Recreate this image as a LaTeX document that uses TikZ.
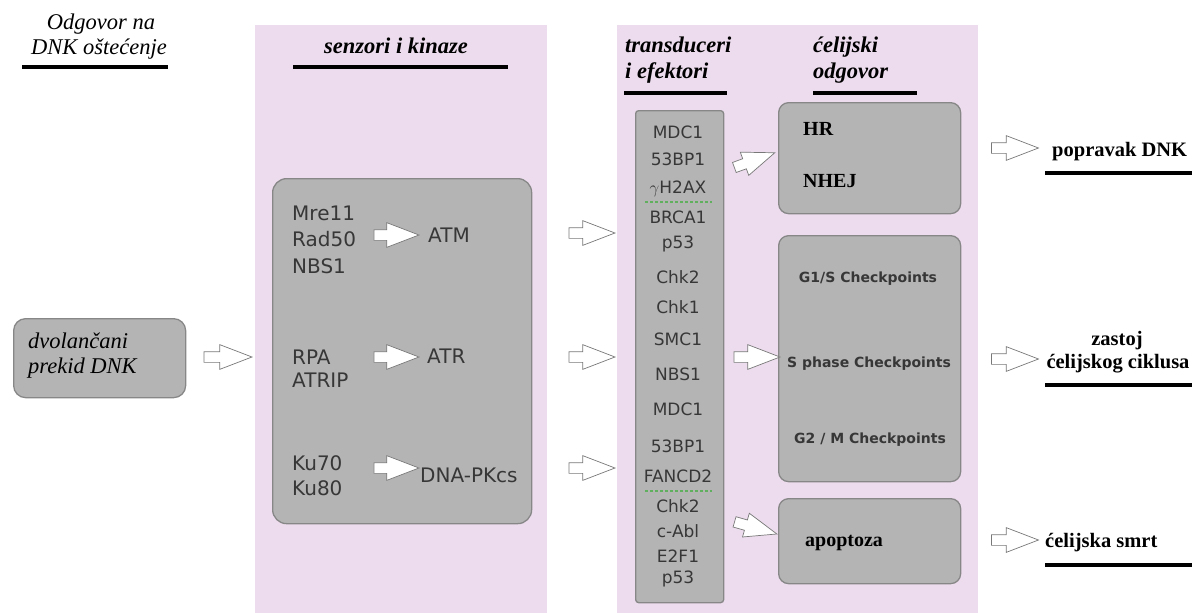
\documentclass[tikz,border=0pt]{standalone}
\usepackage{fontspec}
\setmainfont{Liberation Serif}
\newfontfamily\dejavu{DejaVu Sans}
\usetikzlibrary{shapes.arrows}
\definecolor{pinkbg}{RGB}{237,220,237}
\definecolor{boxfill}{RGB}{180,180,180}
\definecolor{boxline}{RGB}{135,135,135}
\definecolor{txtgray}{RGB}{55,55,55}
\definecolor{dashgreen}{RGB}{95,175,95}
\definecolor{arrline}{RGB}{120,120,120}
\begin{document}
\begin{tikzpicture}[x=1pt,y=-1pt,
  panel/.style={fill=pinkbg,draw=none,inner sep=0pt,anchor=north west},
  gbox/.style={fill=boxfill,draw=boxline,line width=1.3pt,inner sep=0pt,anchor=north west},
  ttl/.style={font=\fontsize{22.5}{26}\selectfont\itshape\bfseries,text=black,inner sep=0pt},
  ttlr/.style={font=\fontsize{22.5}{26}\selectfont\itshape,text=black,inner sep=0pt},
  res/.style={font=\fontsize{20.5}{24}\selectfont\bfseries,text=black,inner sep=0pt},
  sens/.style={font=\dejavu\fontsize{20}{24}\selectfont,text=txtgray,inner sep=0pt,anchor=base west},
  col/.style={font=\dejavu\fontsize{17}{20}\selectfont,text=txtgray,inner sep=0pt,anchor=base},
  chkt/.style={font=\dejavu\bfseries\fontsize{14}{17}\selectfont,text=txtgray,inner sep=0pt,anchor=base},
  resp/.style={font=\fontsize{20}{24}\selectfont\bfseries,text=black,inner sep=0pt,anchor=base west},
  uline/.style={line width=3.5pt,black},
  gdash/.style={dashgreen,densely dashed,line width=1.2pt},
  blockarrow/.style={single arrow,draw=arrline,fill=white,line width=0.7pt,inner sep=0pt,
     text height=10pt,text depth=0pt,single arrow head extend=7pt,single arrow tip angle=42,
     anchor=center}
]
\useasboundingbox (0,0) rectangle (1203,613);

% panels
\node[panel,minimum width=292pt,minimum height=588pt] (p1) at (255,25) {};
\node[panel,minimum width=361pt,minimum height=588pt] (p2) at (617,25) {};

% column titles
\node[ttlr,anchor=base] (t1a) at (101,29) {Odgovor na};
\node[ttlr,anchor=base] (t1b) at (99,54) {DNK oštećenje};
\draw[uline] (22,67) -- (168,67);

\node[ttl,anchor=base] (t2) at (396,53) {senzori i kinaze};
\draw[uline] (293,67) -- (508,67);

\node[ttl,anchor=base west] (t3a) at (625,52) {transduceri};
\node[ttl,anchor=base west] (t3b) at (625,78) {i efektori};
\draw[uline] (624,93) -- (727,93);

\node[ttl,anchor=base west] (t4a) at (813,52) {ćelijski};
\node[ttl,anchor=base west] (t4b) at (813,78) {odgovor};
\draw[uline] (813,93) -- (917,93);

% start box
\node[gbox,rounded corners=12pt,minimum width=172pt,minimum height=79pt] (dsb) at (13,318) {};
\node[ttlr,anchor=base west] (dsba) at (28,348) {dvolančani};
\node[ttlr,anchor=base west] (dsbb) at (28,373) {prekid DNK};

% sensors box
\node[gbox,rounded corners=14pt,minimum width=259pt,minimum height=345pt] (sens) at (272,178) {};
\node[sens] (mre) at (292,220) {Mre11};
\node[sens] (rad) at (292,246) {Rad50};
\node[sens] (nbs) at (292,273) {NBS1};
\node[sens] (atm) at (428,242) {ATM};
\node[sens] (rpa) at (292,364) {RPA};
\node[sens] (atrip) at (292,387) {ATRIP};
\node[sens] (atr) at (427,363) {ATR};
\node[sens] (ku70) at (292,470) {Ku70};
\node[sens] (ku80) at (292,495) {Ku80};
\node[sens] (dnapk) at (420,482) {DNA-PKcs};
\node[blockarrow,minimum height=45pt] (a1) at (389.5,235) {};
\node[blockarrow,minimum height=45pt] (a2) at (389.5,357) {};
\node[blockarrow,minimum height=45pt] (a3) at (389.5,468) {};

% transducer column
\node[gbox,rounded corners=3pt,minimum width=88pt,minimum height=492pt] (trans) at (635,110) {};
\node[col] (c1) at (678,138) {MDC1};
\node[col] (c2) at (678,165) {53BP1};
\node[col] (c3) at (678,193) {$\gamma$H2AX};
\draw[gdash] (645,202) -- (712,202);
\node[col] (c4) at (678,223) {BRCA1};
\node[col] (c5) at (678,248) {p53};
\node[col] (c6) at (678,283) {Chk2};
\node[col] (c7) at (678,313) {Chk1};
\node[col] (c8) at (678,345) {SMC1};
\node[col] (c9) at (678,380) {NBS1};
\node[col] (c10) at (678,415) {MDC1};
\node[col] (c11) at (678,452) {53BP1};
\node[col] (c12) at (678,482) {FANCD2};
\draw[gdash] (645,491) -- (712,491);
\node[col] (c13) at (678,512) {Chk2};
\node[col] (c14) at (678,537) {c-Abl};
\node[col] (c15) at (678,562) {E2F1};
\node[col] (c16) at (678,583) {p53};

% response boxes
\node[gbox,rounded corners=10pt,minimum width=182pt,minimum height=111pt] (hr) at (778,102) {};
\node[resp] (hrt) at (803,135) {HR};
\node[resp] (nhej) at (803,187) {NHEJ};
\node[gbox,rounded corners=10pt,minimum width=182pt,minimum height=246pt] (chk) at (778,235) {};
\node[chkt] (g1s) at (868,282) {G1/S Checkpoints};
\node[chkt] (sph) at (869,367) {S phase Checkpoints};
\node[chkt] (g2m) at (870,443) {G2 / M Checkpoints};
\node[gbox,rounded corners=10pt,minimum width=182pt,minimum height=85pt] (apo) at (778,498) {};
\node[resp] (apot) at (805,546) {apoptoza};

% arrows between columns
\node[blockarrow,minimum height=48pt] (b0) at (221,357) {};
\node[blockarrow,minimum height=46pt] (b1) at (585,233) {};
\node[blockarrow,minimum height=46pt] (b2) at (585,357) {};
\node[blockarrow,minimum height=46pt] (b3) at (585,468) {};
\node[blockarrow,minimum height=43pt,rotate=20] (d1) at (748,162.5) {};
\node[blockarrow,minimum height=46pt] (d2) at (750,357) {};
\node[blockarrow,minimum height=44pt,rotate=-16] (d3) at (749,526) {};
\node[blockarrow,minimum height=47pt] (e1) at (1008,148) {};
\node[blockarrow,minimum height=47pt] (e2) at (1008,359) {};
\node[blockarrow,minimum height=47pt] (e3) at (1008,540) {};

% outcomes
\node[res,anchor=base west] (o1) at (1052,156) {popravak DNK};
\draw[uline] (1045,173) -- (1192,173);
\node[res,anchor=base] (o2a) at (1117,345) {zastoj};
\node[res,anchor=base] (o2b) at (1118,368) {ćelijskog ciklusa};
\draw[uline] (1045,385) -- (1192,385);
\node[res,anchor=base west] (o3) at (1045,547) {ćelijska smrt};
\draw[uline] (1045,565) -- (1192,565);
\end{tikzpicture}
\end{document}
